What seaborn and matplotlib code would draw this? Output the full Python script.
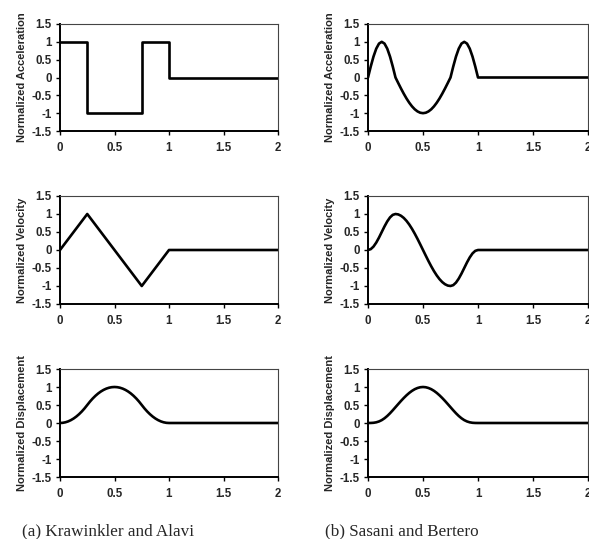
import matplotlib
matplotlib.use("Agg")
import matplotlib.pyplot as plt
import seaborn as sns

# time axes
t_step = [0, 0.25, 0.25, 0.75, 0.75, 1.0, 1.0, 2.0]
t_tri = [0, 0.25, 0.75, 1.0, 2.0]
t_fine = [0, 0.025, 0.05, 0.075, 0.1, 0.125, 0.15, 0.175, 0.2, 0.225,
          0.25, 0.275, 0.3, 0.325, 0.35, 0.375, 0.4, 0.425, 0.45, 0.475,
          0.5, 0.525, 0.55, 0.575, 0.6, 0.625, 0.65, 0.675, 0.7, 0.725,
          0.75, 0.775, 0.8, 0.825, 0.85, 0.875, 0.9, 0.925, 0.95, 0.975,
          1.0, 2.0]

# (a) Krawinkler and Alavi
ka_acc = [1, 1, -1, -1, 1, 1, 0, 0]
ka_vel = [0, 1, -1, 0, 0]
ka_disp = [0, 0.005, 0.02, 0.045, 0.08, 0.125, 0.18, 0.245, 0.32, 0.405,
           0.5, 0.595, 0.68, 0.755, 0.82, 0.875, 0.92, 0.955, 0.98, 0.995,
           1.0, 0.995, 0.98, 0.955, 0.92, 0.875, 0.82, 0.755, 0.68, 0.595,
           0.5, 0.405, 0.32, 0.245, 0.18, 0.125, 0.08, 0.045, 0.02, 0.005,
           0, 0]

# (b) Sasani and Bertero
sb_acc = [0, 0.309, 0.588, 0.809, 0.951, 1, 0.951, 0.809, 0.588, 0.309,
          0, -0.156, -0.309, -0.454, -0.588, -0.707, -0.809, -0.891, -0.951, -0.988,
          -1, -0.988, -0.951, -0.891, -0.809, -0.707, -0.588, -0.454, -0.309, -0.156,
          0, 0.309, 0.588, 0.809, 0.951, 1, 0.951, 0.809, 0.588, 0.309,
          0, 0]
sb_vel = [0, 0.024, 0.095, 0.206, 0.345, 0.5, 0.655, 0.794, 0.905, 0.976,
          1, 0.988, 0.951, 0.891, 0.809, 0.707, 0.588, 0.454, 0.309, 0.156,
          0, -0.156, -0.309, -0.454, -0.588, -0.707, -0.809, -0.891, -0.951, -0.988,
          -1, -0.976, -0.905, -0.794, -0.655, -0.5, -0.345, -0.206, -0.095, -0.024,
          0, 0]
sb_disp = [0, 0.001, 0.006, 0.019, 0.043, 0.08, 0.131, 0.195, 0.27, 0.353,
           0.44, 0.527, 0.613, 0.694, 0.769, 0.836, 0.893, 0.939, 0.972, 0.993,
           1.0, 0.993, 0.972, 0.939, 0.893, 0.836, 0.769, 0.694, 0.613, 0.527,
           0.44, 0.353, 0.27, 0.195, 0.131, 0.08, 0.043, 0.019, 0.006, 0.001,
           0, 0]

xticks = [0, 0.5, 1, 1.5, 2]
xlabels = ["0", "0.5", "1", "1.5", "2"]
yticks = [-1.5, -1, -0.5, 0, 0.5, 1, 1.5]
ylabels = ["-1.5", "-1", "-0.5", "0", "0.5", "1", "1.5"]
row_names = ["Normalized Acceleration", "Normalized Velocity", "Normalized Displacement"]
captions = ["(a) Krawinkler and Alavi", "(b) Sasani and Bertero"]

sns.set_style("ticks")
plt.rcParams["font.family"] = ["Liberation Sans", "DejaVu Sans"]
plt.rcParams["axes.unicode_minus"] = False

fig = plt.figure(figsize=(5.89, 5.39), dpi=100)

W, H = 589.0, 539.0
col_x = [(60, 278), (368, 588)]
row_y = [(24, 131), (196, 304), (369, 477)]

panels = [
    [(t_step, ka_acc), (t_tri, ka_vel), (t_fine, ka_disp)],
    [(t_fine, sb_acc), (t_fine, sb_vel), (t_fine, sb_disp)],
]

for c in range(2):
    for r in range(3):
        x0, x1 = col_x[c]
        y0, y1 = row_y[r]
        ax = fig.add_axes([x0 / W, 1 - y1 / H, (x1 - x0) / W, (y1 - y0) / H])
        xs, ys = panels[c][r]
        sns.lineplot(x=xs, y=ys, ax=ax, color="black", linewidth=1.9,
                     estimator=None, sort=False)
        ax.set_xlim(0, 2)
        ax.set_ylim(-1.5, 1.5)
        ax.set_xticks(xticks)
        ax.set_xticklabels(xlabels, fontsize=8.3, fontweight="bold")
        ax.set_yticks(yticks)
        ax.set_yticklabels(ylabels, fontsize=8.3, fontweight="bold")
        ax.tick_params(axis="both", length=3, width=1, color="black")
        ax.tick_params(axis="x", pad=5)
        ax.tick_params(axis="y", pad=3)
        ax.set_ylabel(row_names[r], fontsize=8, fontweight="bold", labelpad=3)
        for side in ["left", "bottom"]:
            ax.spines[side].set_linewidth(1.4)
            ax.spines[side].set_color("black")
        for side in ["top", "right"]:
            ax.spines[side].set_visible(True)
            ax.spines[side].set_linewidth(0.8)
            ax.spines[side].set_color("#444444")

fig.text(22 / W, 1 - 531 / H, captions[0], family="Liberation Serif",
         fontsize=12.3, va="center", ha="left")
fig.text(325 / W, 1 - 531 / H, captions[1], family="Liberation Serif",
         fontsize=12.3, va="center", ha="left")

fig.savefig("out.png", dpi=100)
